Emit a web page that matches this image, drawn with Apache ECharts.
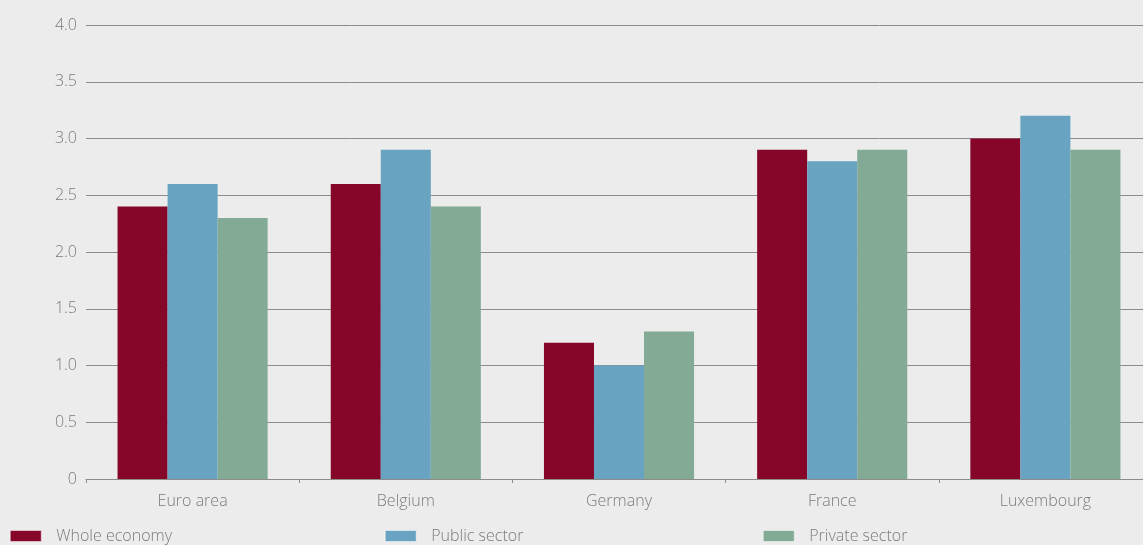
<!DOCTYPE html>
<html>
<head>
<meta charset="utf-8">
<script src="https://cdn.jsdelivr.net/npm/echarts@6/dist/echarts.min.js"></script>
<style>
  html, body { margin: 0; padding: 0; background: #ebeceb; }
  #chartBar { width: 1143px; height: 545px; }
</style>
</head>
<body>
<div id="chartBar"></div>
<script>
var categories = ['Euro area', 'Belgium', 'Germany', 'France', 'Luxembourg'];
var seriesNames = ['Whole economy', 'Public sector', 'Private sector'];
var wholeEconomy = [2.4, 2.6, 1.2, 2.9, 3.0];
var publicSector = [2.6, 2.9, 1.0, 2.8, 3.2];
var privateSector = [2.3, 2.4, 1.3, 2.9, 2.9];
var yTicks = [0, 0.5, 1, 1.5, 2, 2.5, 3, 3.5, 4];

var colors = ['#850628', '#68a3c2', '#82aa94'];
var textColor = '#7b7b7b';
var fontName = 'Open Sans';

var myChart = echarts.init(document.getElementById('chartBar'));

function legendFor(name, left) {
    return {
        data: [name],
        left: left,
        top: 528,
        padding: 0,
        icon: 'rect',
        itemWidth: 31,
        itemHeight: 11,
        itemStyle: { borderColor: '#ffffff', borderWidth: 0.5 },
        textStyle: {
            color: textColor,
            fontSize: 16,
            fontFamily: fontName,
            fontWeight: 300,
            padding: [0, 0, 0, 10]
        }
    };
}

var option = {
    backgroundColor: '#ebeceb',
    animation: false,
    color: colors,
    grid: {
        left: 86,
        width: 1066,
        top: 25,
        bottom: 66,
        containLabel: false,
        outerBoundsMode: 'none'
    },
    legend: [
        legendFor(seriesNames[0], 10),
        legendFor(seriesNames[1], 385),
        legendFor(seriesNames[2], 763)
    ],
    xAxis: {
        type: 'category',
        data: categories,
        axisLine: { lineStyle: { color: '#8c8c8c', width: 1 } },
        axisTick: { show: true, length: 4, lineStyle: { color: '#8c8c8c' } },
        axisLabel: {
            color: textColor,
            fontSize: 16,
            fontFamily: fontName,
            fontWeight: 300,
            margin: 14
        }
    },
    yAxis: {
        type: 'value',
        min: yTicks[0],
        max: yTicks[yTicks.length - 1],
        interval: 0.5,
        axisLine: { show: false },
        axisTick: { show: false },
        splitLine: { lineStyle: { color: '#8c8c8c', width: 1 } },
        axisLabel: {
            color: textColor,
            fontSize: 16,
            fontFamily: fontName,
            fontWeight: 300,
            margin: 9,
            formatter: function (v) {
                return v === 0 ? '0' : v.toFixed(1);
            }
        }
    },
    series: [
        { name: seriesNames[0], type: 'bar', data: wholeEconomy, barGap: '0%', barCategoryGap: '29.6%' },
        { name: seriesNames[1], type: 'bar', data: publicSector, barGap: '0%', barCategoryGap: '29.6%' },
        { name: seriesNames[2], type: 'bar', data: privateSector, barGap: '0%', barCategoryGap: '29.6%' }
    ]
};

myChart.setOption(option);
</script>
</body>
</html>
